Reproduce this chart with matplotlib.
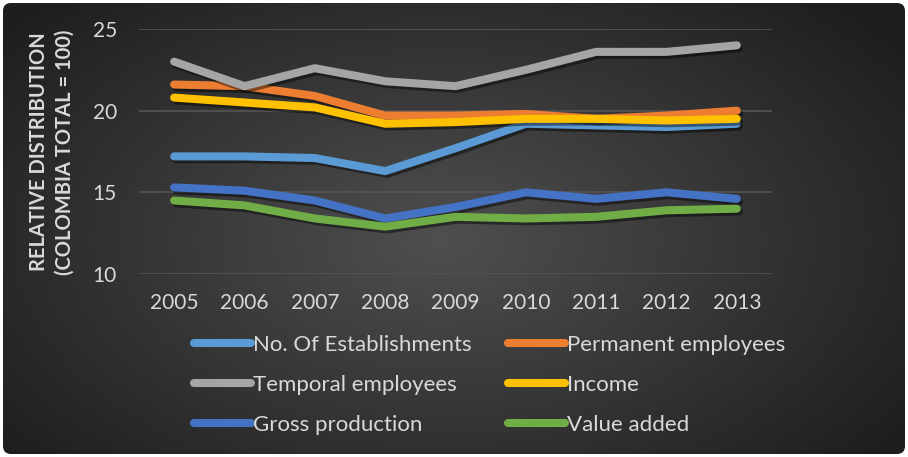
import numpy as np
import matplotlib
matplotlib.use('Agg')
import matplotlib.pyplot as plt
import matplotlib.patheffects as pe
from matplotlib.patches import FancyBboxPatch

years = ['2005', '2006', '2007', '2008', '2009', '2010', '2011', '2012', '2013']

establishments = [17.2, 17.2, 17.1, 16.3, 17.7, 19.2, 19.1, 19.0, 19.2]
permanent = [21.6, 21.5, 20.9, 19.7, 19.7, 19.8, 19.5, 19.7, 20.0]
temporal = [23.0, 21.5, 22.6, 21.8, 21.5, 22.5, 23.6, 23.6, 24.0]
income = [20.8, 20.5, 20.2, 19.2, 19.3, 19.5, 19.5, 19.4, 19.5]
gross = [15.3, 15.1, 14.5, 13.4, 14.1, 15.0, 14.6, 15.0, 14.6]
value_added = [14.5, 14.2, 13.4, 12.9, 13.5, 13.4, 13.5, 13.9, 14.0]

series = [
    ('No. Of Establishments', establishments, '#5b9bd5'),
    ('Permanent employees', permanent, '#ed7d31'),
    ('Temporal employees', temporal, '#a5a5a5'),
    ('Income', income, '#ffc000'),
    ('Gross production', gross, '#4472c4'),
    ('Value added', value_added, '#70ad47'),
]

plt.rcParams['font.family'] = ['Lato', 'DejaVu Sans']
txt = '#d9d9d9'

fig = plt.figure(figsize=(9.08, 4.57), dpi=100)
fig.patch.set_facecolor('white')

# background with radial gradient
bg = fig.add_axes([0, 0, 1, 1])
bg.set_axis_off()
yy, xx = np.mgrid[0:457, 0:908]
r = np.sqrt(((xx - 440) / 560.0) ** 2 + ((yy - 240) / 330.0) ** 2)
shade = np.clip(0.31 - 0.19 * r, 0.12, 0.31)
img = bg.imshow(np.dstack([shade] * 3), extent=[0, 908, 457, 0], aspect='auto')
bg.set_xlim(0, 908)
bg.set_ylim(457, 0)
clip = FancyBboxPatch((3, 3), 902, 451, boxstyle='round,pad=0,rounding_size=8',
                      transform=bg.transData, facecolor='none', edgecolor='none')
bg.add_patch(clip)
img.set_clip_path(clip)

ax = fig.add_axes([139 / 908, 1 - 274 / 457, (772 - 139) / 908, (274 - 29) / 457])
ax.patch.set_alpha(0)
x = np.arange(len(years))
handles = []
for name, vals, col in series:
    ln, = ax.plot(x, vals, color=col, lw=5.8, solid_capstyle='round', solid_joinstyle='round',
                  label=name,
                  path_effects=[pe.SimpleLineShadow(offset=(1.5, -2), shadow_color='black', alpha=0.45),
                                pe.Normal()])
    handles.append(ln)

ax.set_xlim(-0.5, len(years) - 0.5)
ax.set_ylim(10, 25)
ax.set_yticks([10, 15, 20, 25])
ax.set_xticks(x)
ax.set_xticklabels(years)
ax.grid(axis='y', color='#555555', lw=1.2)
ax.set_axisbelow(True)
for s in ax.spines.values():
    s.set_visible(False)
ax.tick_params(length=0, colors=txt, labelsize=15)
ax.tick_params(axis='y', pad=16)
ax.tick_params(axis='x', pad=14)

fig.text(52 / 908, 1 - 152 / 457, 'RELATIVE DISTRIBUTION\n(COLOMBIA TOTAL = 100)',
         rotation=90, ha='center', va='center', color=txt, fontsize=14.5,
         fontweight='bold', linespacing=1.35)

# legend filled row by row, two columns
order = [0, 2, 4, 1, 3, 5]
leg = fig.legend([handles[i] for i in order], [series[i][0] for i in order],
                 loc='upper left', bbox_to_anchor=(194 / 908, 1 - 335 / 457), ncol=2,
                 frameon=False, fontsize=16, handlelength=2.55, handletextpad=0.1,
                 columnspacing=1.65, labelspacing=0.9, borderpad=0, borderaxespad=0)
for t in leg.get_texts():
    t.set_color(txt)
for h in leg.get_lines():
    h.set_path_effects([pe.Normal()])

fig.savefig('out.png', dpi=100, facecolor=fig.get_facecolor())
